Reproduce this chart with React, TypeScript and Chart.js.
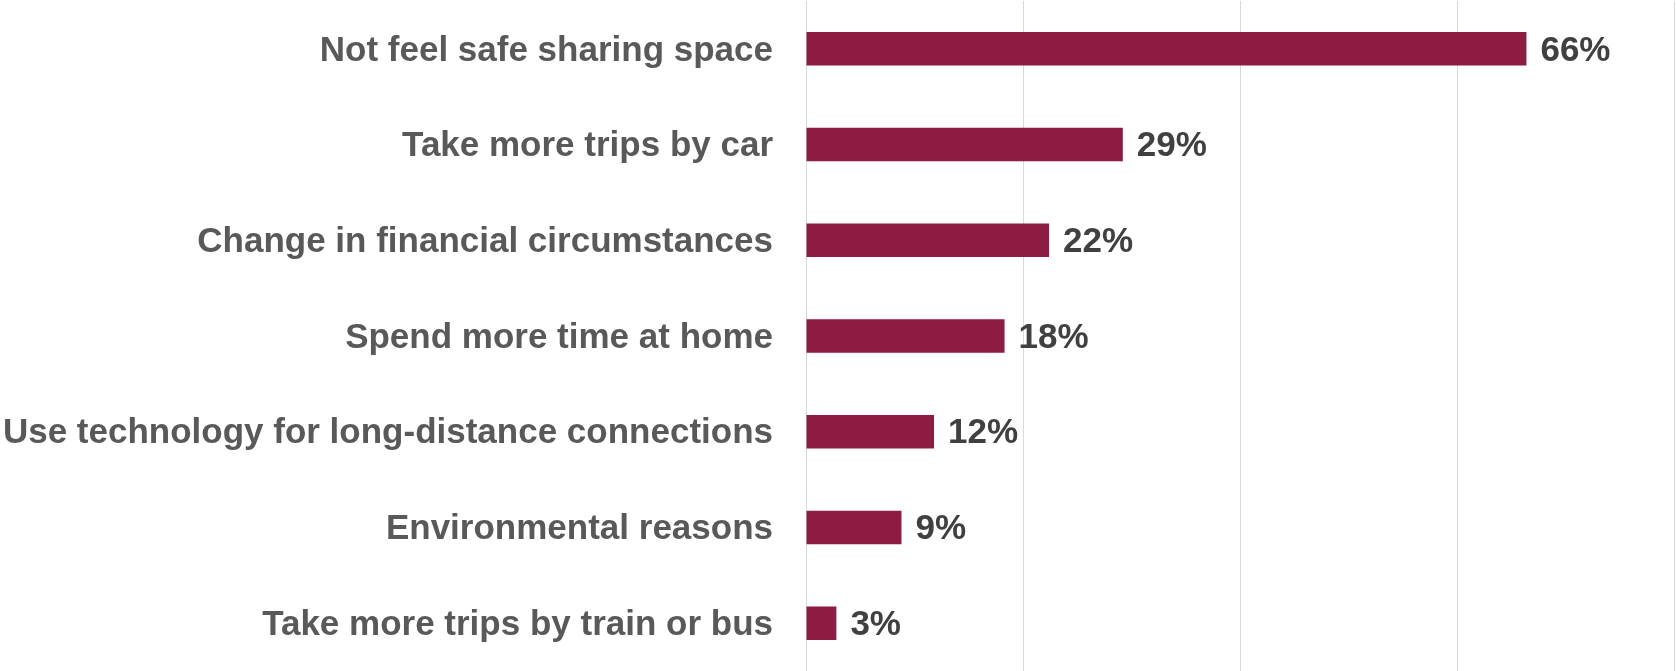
import React, { useEffect, useRef } from "react";
import { Chart, registerables } from "chart.js";

Chart.register(...registerables);

const categories = [
  "Not feel safe sharing space",
  "Take more trips by car",
  "Change in financial circumstances",
  "Spend more time at home",
  "Use technology for long-distance connections",
  "Environmental reasons",
  "Take more trips by train or bus",
];
const values = [66.4, 29.2, 22.4, 18.3, 11.8, 8.8, 2.8];
const valueLabels = ["66%", "29%", "22%", "18%", "12%", "9%", "3%"];
const xTicks = [0, 20, 40, 60, 80];

const FONT = "'Liberation Sans', Arial, sans-serif";

const dataLabelPlugin = {
  id: "dataLabels",
  afterDatasetsDraw(chart: any) {
    const ctx = chart.ctx;
    const meta = chart.getDatasetMeta(0);
    ctx.save();
    ctx.font = `bold 35px ${FONT}`;
    ctx.fillStyle = "#404040";
    ctx.textAlign = "left";
    ctx.textBaseline = "middle";
    meta.data.forEach((bar: any, i: number) => {
      ctx.fillText(valueLabels[i], bar.x + 14, bar.y + 2);
    });
    ctx.restore();
  },
};

export default function App() {
  const ref = useRef<HTMLCanvasElement | null>(null);
  useEffect(() => {
    if (!ref.current) return;
    const chart = new Chart(ref.current, {
      type: "bar",
      data: {
        labels: categories,
        datasets: [
          {
            data: values,
            backgroundColor: "#8C1C41",
            barPercentage: 0.35,
            categoryPercentage: 1,
          },
        ],
      },
      options: {
        indexAxis: "y",
        animation: false,
        responsive: true,
        maintainAspectRatio: false,
        layout: { padding: { top: 1, right: 2, bottom: 0, left: 0 } },
        plugins: { legend: { display: false }, tooltip: { enabled: false } },
        scales: {
          x: {
            min: 0,
            max: 80,
            afterBuildTicks: (scale: any) => {
              scale.ticks = xTicks.map((v) => ({ value: v }));
            },
            ticks: { display: false },
            grid: { color: "#d9d9d9", lineWidth: 1, drawTicks: false },
            border: { display: false },
          },
          y: {
            afterFit: (scale: any) => {
              scale.width = 806;
              scale.paddingTop = 0;
              scale.paddingBottom = 0;
            },
            ticks: {
              padding: 33,
              labelOffset: 2,
              color: "#595959",
              font: { family: FONT, size: 35, weight: "bold" },
            },
            grid: { display: false, drawTicks: false },
            border: { display: false },
          },
        },
      },
      plugins: [dataLabelPlugin],
    });
    return () => chart.destroy();
  }, []);
  return (
    <div style={{ position: "absolute", left: 0, top: 0, width: 1676, height: 671, background: "#fff" }}>
      <canvas ref={ref} />
    </div>
  );
}
